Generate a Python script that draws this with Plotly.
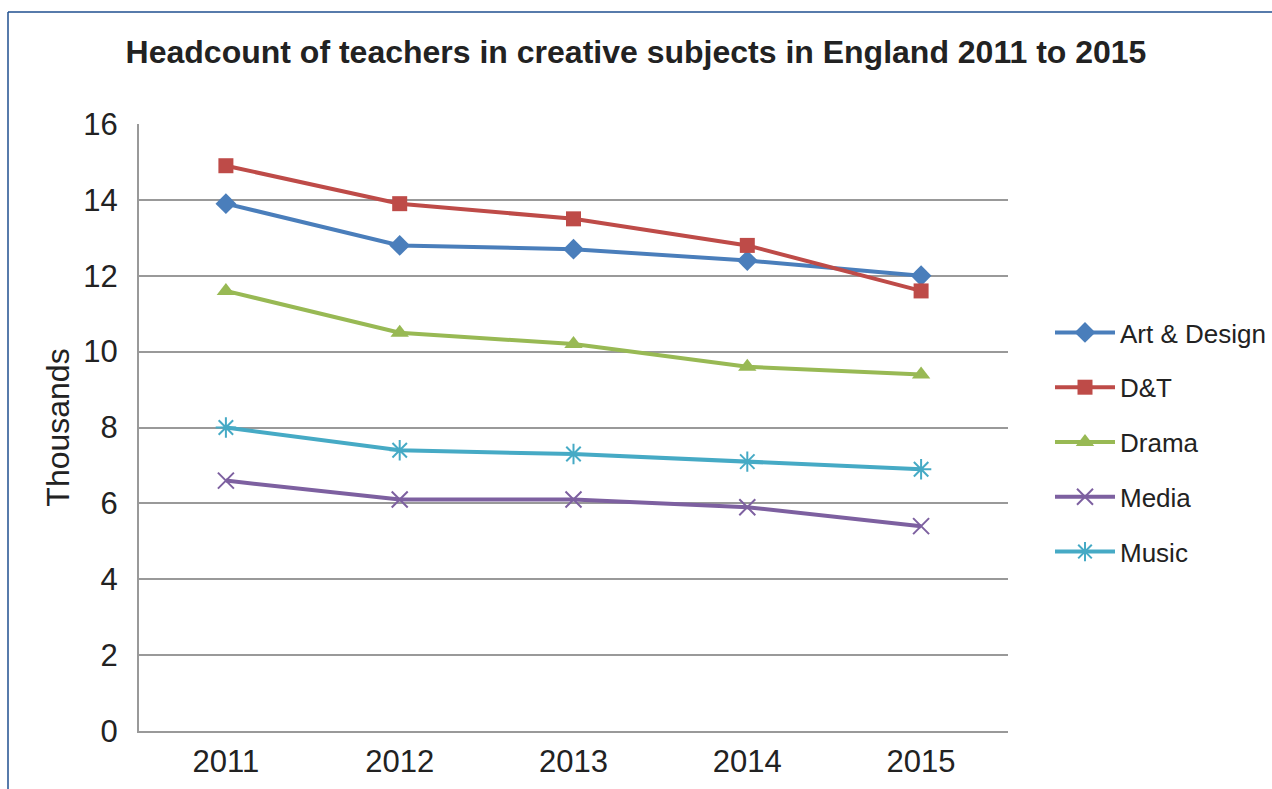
import plotly.graph_objects as go

years = ["2011", "2012", "2013", "2014", "2015"]
art_design = [13.9, 12.8, 12.7, 12.4, 12.0]
dt = [14.9, 13.9, 13.5, 12.8, 11.6]
drama = [11.6, 10.5, 10.2, 9.6, 9.4]
media = [6.6, 6.1, 6.1, 5.9, 5.4]
music = [8.0, 7.4, 7.3, 7.1, 6.9]

y_ticks = [0, 2, 4, 6, 8, 10, 12, 14, 16]

FONT = "Liberation Sans, Arial, Helvetica, sans-serif"

series = [
    ("Art & Design", art_design, "#4a7ebb", "diamond", 16, 0),
    ("D&T", dt, "#be4b48", "square", 15, 0),
    ("Drama", drama, "#98b954", "triangle-up", 16, 0),
    ("Media", media, "#7d60a0", "x-thin-open", 16, 2),
    ("Music", music, "#46aac5", "asterisk-open", 17, 2),
]

fig = go.Figure()
for name, vals, col, sym, size, lw in series:
    fig.add_trace(go.Scatter(
        x=years, y=vals, name=name, mode="lines+markers",
        legendgroup=name,
        line=dict(color=col, width=4),
        marker=dict(symbol=sym, size=size, color=col,
                    line=dict(color=col, width=lw)),
    ))

W, H = 1272, 789
L, R, T, B = 139, 1008, 124, 731

def px_x(p):
    return (p - L) / (R - L)

def px_y(p):
    return (B - p) / (B - T)

fig.update_layout(
    width=W, height=H,
    margin=dict(l=L, r=W - R, t=T, b=H - B, pad=0, autoexpand=False),
    paper_bgcolor="white", plot_bgcolor="white",
    font=dict(family=FONT, color="#222222"),
    title=dict(
        text="<b>Headcount of teachers in creative subjects in England 2011 to 2015</b>",
        font=dict(size=32, family=FONT, color="#222222"),
        x=0.5, xref="container", xanchor="center",
        y=1 - 52 / H, yref="container", yanchor="middle",
    ),
    showlegend=True,
    legend=dict(
        x=px_x(1050), xanchor="left",
        y=px_y(309), yanchor="top",
        font=dict(size=26, family=FONT, color="#222222"),
        tracegroupgap=18,
        itemwidth=60,
        bgcolor="rgba(0,0,0,0)",
    ),
    xaxis=dict(
        type="category",
        range=[-0.5, 4.5],
        showgrid=False,
        showline=True, linecolor="#999999", linewidth=2,
        ticks="", tickfont=dict(size=31, family=FONT, color="#222222"),
        ticklabelstandoff=2,
        zeroline=False,
        automargin=False,
    ),
    yaxis=dict(
        range=[0, 16],
        tickvals=y_ticks,
        showgrid=True, gridcolor="#999999", gridwidth=2,
        showline=True, linecolor="#999999", linewidth=2,
        ticks="", tickfont=dict(size=31, family=FONT, color="#222222"),
        ticklabelstandoff=13,
        zeroline=False,
        automargin=False,
        title=dict(text="Thousands", font=dict(size=32, family=FONT, color="#222222"),
                   standoff=4),
    ),
    shapes=[
        dict(type="line", xref="paper", yref="paper",
             x0=px_x(8), x1=px_x(1290), y0=px_y(12), y1=px_y(12),
             line=dict(color="#1f4f8f", width=1.5)),
        dict(type="line", xref="paper", yref="paper",
             x0=px_x(8), x1=px_x(8), y0=px_y(12), y1=px_y(800),
             line=dict(color="#1f4f8f", width=1.5)),
    ],
)

fig.write_html("out.html")
